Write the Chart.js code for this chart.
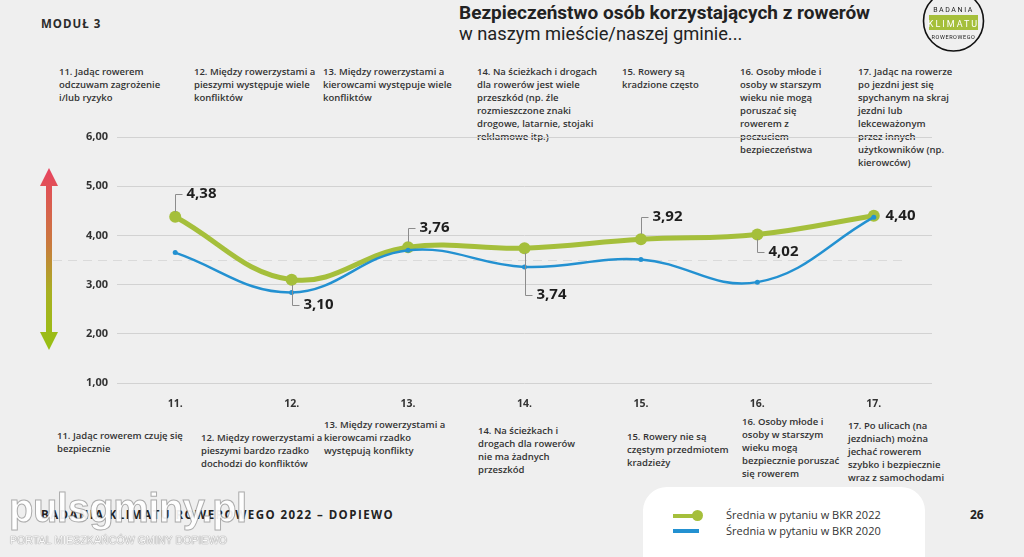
<!DOCTYPE html>
<html lang="pl">
<head>
<meta charset="utf-8">
<title>Bezpieczeństwo osób korzystających z rowerów</title>
<script src="https://cdn.jsdelivr.net/npm/chart.js@4.4.1/dist/chart.umd.min.js"></script>
<style>
  html, body { margin: 0; padding: 0; }
  body {
    width: 1024px; height: 557px; position: relative; overflow: hidden;
    background: #efefef; font-family: 'Open Sans', sans-serif; color: #2b2b2b;
  }
  #chart { position: absolute; left: 0; top: 0; z-index: 2; }
  .note {
    position: absolute; z-index: 1; white-space: pre;
    font-size: 9.5px; font-weight: 600; line-height: 13px; color: #333;
  }
  #modul { position: absolute; left: 41px; top: 16px; font-size: 11.5px; font-weight: 700; letter-spacing: 1px; }
  #title { position: absolute; left: 459px; top: 1px; font-family: Roboto, sans-serif; font-size: 19px; font-weight: 700; color: #222; }
  #subtitle { position: absolute; left: 459px; top: 23px; font-family: Roboto, sans-serif; font-size: 18.3px; font-weight: 400; color: #222; }
  #logo { position: absolute; left: 918px; top: 0; z-index: 3; }
  #arrow { position: absolute; left: 38px; top: 166px; z-index: 1; }
  #footer { position: absolute; left: 41px; top: 507px; font-size: 11.5px; font-weight: 700; letter-spacing: 1.45px; color: #222; }
  #page { position: absolute; left: 970px; top: 506px; font-size: 12px; font-weight: 700; color: #222; }
  #watermark {
    position: absolute; left: 9px; top: 486px; z-index: 4;
    font-family: 'Liberation Sans', sans-serif; font-size: 40px; font-weight: 700; letter-spacing: -0.5px;
    color: rgba(255,255,255,0.92); -webkit-text-stroke: 1px rgba(110,110,110,0.55);
  }
  #portal {
    position: absolute; left: 10px; top: 534px; z-index: 4;
    font-family: 'Liberation Sans', sans-serif; font-size: 10.5px; letter-spacing: 0.1px;
    color: #fafafa; text-shadow: 0 0 1px #888, 0 0 1px #888;
  }
  #legend {
    position: absolute; left: 643px; top: 487px; width: 282px; height: 100px;
    background: #fff; border-radius: 24px; z-index: 1;
  }
  .leg { position: absolute; left: 83px; font-size: 11px; color: #333; white-space: nowrap; }
  .swatch { position: absolute; left: 30px; height: 4px; width: 26px; }
</style>
</head>
<body>
<div id="modul">MODUŁ 3</div>
<div id="title">Bezpieczeństwo osób korzystających z rowerów</div>
<div id="subtitle">w naszym mieście/naszej gminie...</div>

<svg id="logo" width="72" height="58" viewBox="0 0 72 58">
  <circle cx="35.5" cy="21" r="30" fill="#efefef" stroke="#111" stroke-width="1.6"/>
  <text x="35.5" y="12" text-anchor="middle" font-family="Roboto, sans-serif" font-size="7" letter-spacing="1.6" fill="#222">BADANIA</text>
  <rect x="11" y="15" width="49" height="15" fill="#a5bf3b"/>
  <text x="35.5" y="26.5" text-anchor="middle" font-family="Roboto, sans-serif" font-size="9" letter-spacing="2" fill="#fff">KLIMATU</text>
  <text x="35.5" y="39" text-anchor="middle" font-family="Roboto, sans-serif" font-size="5.5" letter-spacing="0.6" fill="#222">ROWEROWEGO</text>
</svg>

<svg id="arrow" width="22" height="188" viewBox="0 0 22 188">
  <defs>
    <linearGradient id="grad" x1="0" y1="0" x2="0" y2="1">
      <stop offset="0" stop-color="#e8435f"/>
      <stop offset="0.42" stop-color="#c97a3d"/>
      <stop offset="0.68" stop-color="#a8b022"/>
      <stop offset="1" stop-color="#97c012"/>
    </linearGradient>
  </defs>
  <path d="M11 2 L20 20 L14 20 L14 166 L20 166 L11 184 L2 166 L8 166 L8 20 L2 20 Z" fill="url(#grad)"/>
</svg>

<canvas id="chart" width="1024" height="557"></canvas>

<div id="legend">
  <div class="swatch" style="top:27px;background:#a5bf3b"></div>
  <div class="swatch" style="top:23px;left:49px;width:11px;height:11px;border-radius:50%;background:#a5bf3b"></div>
  <div class="swatch" style="top:42px;background:#2391d1"></div>
  <div class="leg" style="top:20px">Średnia w pytaniu w BKR 2022</div>
  <div class="leg" style="top:36px">Średnia w pytaniu w BKR 2020</div>
</div>

<div id="footer">BADANIA KLIMATU ROWEROWEGO 2022 – DOPIEWO</div>
<div id="page">26</div>
<div id="watermark">pulsgminy.pl</div>
<div id="portal">PORTAL MIESZKAŃCÓW GMINY DOPIEWO</div>

<script>
var categories = ['11.', '12.', '13.', '14.', '15.', '16.', '17.'];
var series2022 = [4.38, 3.10, 3.76, 3.74, 3.92, 4.02, 4.40];
var series2020 = [3.65, 2.84, 3.70, 3.36, 3.51, 3.05, 4.37];
var yMin = 1;
var yMax = 6;
var midline = 3.5;

var topStatements = [
  '11. Jadąc rowerem\nodczuwam zagrożenie\ni/lub ryzyko',
  '12. Między rowerzystami a\npieszymi występuje wiele\nkonfliktów',
  '13. Między rowerzystami a\nkierowcami występuje wiele\nkonfliktów',
  '14. Na ścieżkach i drogach\ndla rowerów jest wiele\nprzeszkód (np. źle\nrozmieszczone znaki\ndrogowe, latarnie, stojaki\nreklamowe itp.)',
  '15. Rowery są\nkradzione często',
  '16. Osoby młode i\nosoby w starszym\nwieku nie mogą\nporuszać się\nrowerem z\npoczuciem\nbezpieczeństwa',
  '17. Jadąc na rowerze\npo jezdni jest się\nspychanym na skraj\njezdni lub\nlekceważonym\nprzez innych\nużytkowników (np.\nkierowców)'
];
var bottomStatements = [
  '11. Jadąc rowerem czuję się\nbezpiecznie',
  '12. Między rowerzystami a\npieszymi bardzo rzadko\ndochodzi do konfliktów',
  '13. Między rowerzystami a\nkierowcami rzadko\nwystępują konflikty',
  '14. Na ścieżkach i\ndrogach dla rowerów\nnie ma żadnych\nprzeszkód',
  '15. Rowery nie są\nczęstym przedmiotem\nkradzieży',
  '16. Osoby młode i\nosoby w starszym\nwieku mogą\nbezpiecznie poruszać\nsię rowerem',
  '17. Po ulicach (na\njezdniach) można\njechać rowerem\nszybko i bezpiecznie\nwraz z samochodami'
];

// where the statement blocks sit (left edge, top of first line)
var topNoteX = [59, 194, 323, 477, 622, 740, 858];
var bottomNoteX = [57, 201, 324, 478, 627, 742, 848];
var bottomNoteY = [429, 431, 418, 424, 430, 415, 419];

function addNote(text, x, y) {
  var d = document.createElement('div');
  d.className = 'note';
  d.style.left = x + 'px';
  d.style.top = y + 'px';
  d.textContent = text;
  document.body.appendChild(d);
}
topStatements.forEach(function (t, i) { addNote(t, topNoteX[i], 65); });
bottomStatements.forEach(function (t, i) { addNote(t, bottomNoteX[i], bottomNoteY[i]); });

function fmt(v) {
  return v.toFixed(2).replace('.', ',');
}

// vertical offset of each value label from its point (0 = right of point)
var labelOffsets = [-23, 25, -19, 47, -22, 18, 0];

var midlinePlugin = {
  id: 'midline',
  beforeDatasetsDraw: function (chart) {
    var ctx = chart.ctx;
    var y = Math.round(chart.scales.y.getPixelForValue(midline)) + 0.5;
    ctx.save();
    ctx.strokeStyle = '#dadada';
    ctx.lineWidth = 1;
    ctx.setLineDash([9, 6]);
    ctx.beginPath();
    ctx.moveTo(53, y);
    ctx.lineTo(905, y);
    ctx.stroke();
    ctx.restore();
  }
};

var valueLabels = {
  id: 'valueLabels',
  afterDatasetsDraw: function (chart) {
    var ctx = chart.ctx;
    var meta = chart.getDatasetMeta(0);
    ctx.save();
    ctx.font = 'bold 15px "Open Sans"';
    ctx.textBaseline = 'middle';
    meta.data.forEach(function (pt, i) {
      var dy = labelOffsets[i];
      var x = Math.round(pt.x) + 0.5;
      var y = Math.round(pt.y);
      if (dy !== 0) {
        ctx.strokeStyle = '#8c8c8c';
        ctx.lineWidth = 1;
        ctx.beginPath();
        ctx.moveTo(x, y + (dy < 0 ? -5 : 5));
        ctx.lineTo(x, y + dy + 0.5);
        ctx.lineTo(x + 7, y + dy + 0.5);
        ctx.stroke();
      }
      ctx.fillStyle = '#1e1e1e';
      ctx.fillText(fmt(series2022[i]), x + 11, y + dy);
    });
    ctx.restore();
  }
};

var ctx = document.getElementById('chart').getContext('2d');
var chart = new Chart(ctx, {
  type: 'line',
  data: {
    labels: categories,
    datasets: [{
      label: 'Średnia w pytaniu w BKR 2022',
      data: series2022,
      borderColor: '#a5bf3b',
      backgroundColor: '#a5bf3b',
      borderWidth: 5,
      pointRadius: 6,
      pointBorderWidth: 0,
      tension: 0.4,
      order: 2
    }, {
      label: 'Średnia w pytaniu w BKR 2020',
      data: series2020,
      borderColor: '#2391d1',
      backgroundColor: '#2391d1',
      borderWidth: 2.5,
      pointRadius: 2.5,
      pointBorderWidth: 0,
      tension: 0.4,
      order: 1
    }]
  },
  options: {
    responsive: false,
    animation: false,
    layout: { padding: { top: 137, right: 92, left: 0, bottom: 0 } },
    plugins: {
      legend: { display: false },
      tooltip: { enabled: false }
    },
    scales: {
      x: {
        offset: true,
        grid: { display: false },
        border: { display: false },
        ticks: { color: '#333', padding: 7, font: { family: 'Open Sans', size: 10.5, weight: 'bold' } },
        afterFit: function (scale) { scale.height = 174; }
      },
      y: {
        min: yMin,
        max: yMax,
        grid: { color: '#d2d2d2', lineWidth: 1, drawTicks: false },
        border: { display: false },
        ticks: {
          stepSize: 1,
          padding: 9,
          color: '#333',
          font: { family: 'Open Sans', size: 11, weight: 'bold' },
          callback: function (v) { return fmt(v); }
        },
        afterFit: function (scale) { scale.width = 117; }
      }
    }
  },
  plugins: [midlinePlugin, valueLabels]
});
</script>
</body>
</html>
